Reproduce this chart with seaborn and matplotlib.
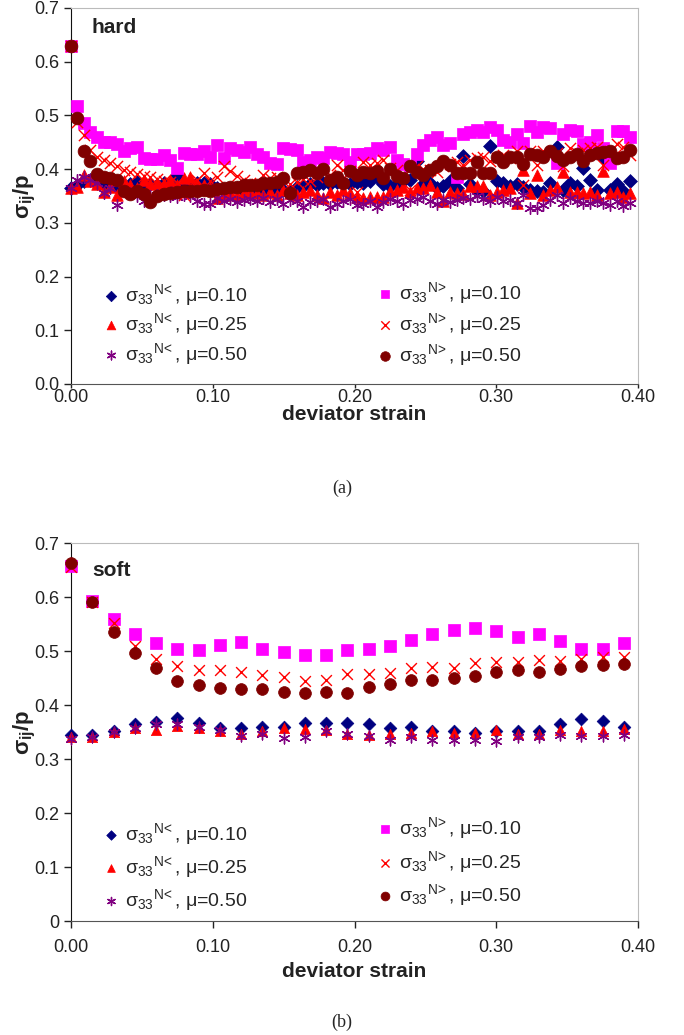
import matplotlib
matplotlib.use('Agg')
import matplotlib.pyplot as plt
import seaborn as sns

# ---- data ----
# hard particles: strain grid and sigma_33 / p for each series
strain_hard = [0.0000, 0.0042, 0.0089, 0.0136, 0.0183, 0.0230, 0.0277, 0.0324, 0.0371, 0.0418,
               0.0465, 0.0512, 0.0559, 0.0606, 0.0653, 0.0700, 0.0747, 0.0794, 0.0841, 0.0888,
               0.0935, 0.0982, 0.1029, 0.1076, 0.1123, 0.1170, 0.1217, 0.1264, 0.1311, 0.1358,
               0.1405, 0.1452, 0.1499, 0.1546, 0.1593, 0.1640, 0.1687, 0.1734, 0.1781, 0.1828,
               0.1875, 0.1922, 0.1969, 0.2016, 0.2063, 0.2110, 0.2157, 0.2204, 0.2251, 0.2298,
               0.2345, 0.2392, 0.2439, 0.2486, 0.2533, 0.2580, 0.2627, 0.2674, 0.2721, 0.2768,
               0.2815, 0.2862, 0.2909, 0.2956, 0.3003, 0.3050, 0.3097, 0.3144, 0.3191, 0.3238,
               0.3285, 0.3332, 0.3379, 0.3426, 0.3473, 0.3520, 0.3567, 0.3614, 0.3661, 0.3708,
               0.3755, 0.3802, 0.3849, 0.3896, 0.3943]

hard_lt_010 = [0.365, 0.370, 0.378, 0.380, 0.375, 0.372, 0.370, 0.368, 0.366, 0.372,
               0.376, 0.375, 0.372, 0.370, 0.375, 0.372, 0.389, 0.370, 0.373, 0.374,
               0.374, 0.372, 0.365, 0.360, 0.362, 0.365, 0.360, 0.362, 0.358, 0.362,
               0.360, 0.365, 0.362, 0.360, 0.366, 0.368, 0.372, 0.370, 0.374, 0.372,
               0.376, 0.375, 0.373, 0.376, 0.374, 0.377, 0.386, 0.372, 0.369, 0.373,
               0.378, 0.380, 0.415, 0.372, 0.374, 0.365, 0.369, 0.378, 0.365, 0.425,
               0.372, 0.362, 0.360, 0.444, 0.378, 0.375, 0.369, 0.373, 0.367, 0.362,
               0.360, 0.357, 0.375, 0.442, 0.361, 0.375, 0.369, 0.403, 0.379, 0.361,
               0.420, 0.361, 0.372, 0.359, 0.378]
hard_lt_025 = [0.365, 0.367, 0.389, 0.377, 0.372, 0.358, 0.367, 0.352, 0.378, 0.370,
               0.364, 0.380, 0.372, 0.375, 0.372, 0.380, 0.370, 0.383, 0.385, 0.372,
               0.370, 0.364, 0.346, 0.352, 0.358, 0.352, 0.355, 0.358, 0.355, 0.352,
               0.358, 0.352, 0.362, 0.355, 0.352, 0.358, 0.361, 0.352, 0.346, 0.358,
               0.352, 0.361, 0.355, 0.349, 0.346, 0.349, 0.348, 0.349, 0.360, 0.361,
               0.367, 0.358, 0.364, 0.365, 0.370, 0.358, 0.340, 0.358, 0.355, 0.354,
               0.369, 0.369, 0.369, 0.352, 0.358, 0.361, 0.364, 0.337, 0.398, 0.355,
               0.389, 0.352, 0.361, 0.367, 0.395, 0.358, 0.357, 0.355, 0.358, 0.352,
               0.397, 0.355, 0.358, 0.349, 0.355]
hard_lt_050 = [0.365, 0.380, 0.385, 0.380, 0.375, 0.355, 0.365, 0.333, 0.360, 0.355,
               0.350, 0.340, 0.350, 0.352, 0.352, 0.350, 0.348, 0.352, 0.350, 0.340,
               0.336, 0.335, 0.346, 0.340, 0.345, 0.338, 0.342, 0.345, 0.340, 0.346,
               0.338, 0.345, 0.335, 0.343, 0.340, 0.330, 0.338, 0.340, 0.345, 0.330,
               0.336, 0.340, 0.345, 0.333, 0.335, 0.340, 0.330, 0.338, 0.345, 0.340,
               0.336, 0.343, 0.345, 0.348, 0.340, 0.335, 0.343, 0.338, 0.342, 0.347,
               0.345, 0.350, 0.345, 0.340, 0.349, 0.340, 0.343, 0.337, 0.352, 0.328,
               0.328, 0.334, 0.343, 0.352, 0.337, 0.346, 0.340, 0.337, 0.337, 0.340,
               0.337, 0.334, 0.340, 0.331, 0.337]
hard_gt_010 = [0.630, 0.518, 0.485, 0.470, 0.459, 0.450, 0.451, 0.446, 0.434, 0.440,
               0.442, 0.420, 0.418, 0.418, 0.426, 0.417, 0.403, 0.430, 0.429, 0.429,
               0.433, 0.423, 0.445, 0.420, 0.440, 0.436, 0.431, 0.442, 0.428, 0.423,
               0.411, 0.410, 0.439, 0.437, 0.436, 0.414, 0.417, 0.423, 0.421, 0.431,
               0.430, 0.429, 0.414, 0.429, 0.428, 0.430, 0.439, 0.436, 0.442, 0.417,
               0.410, 0.405, 0.428, 0.445, 0.454, 0.460, 0.445, 0.448, 0.386, 0.465,
               0.469, 0.473, 0.470, 0.479, 0.473, 0.454, 0.451, 0.465, 0.448, 0.480,
               0.469, 0.479, 0.476, 0.411, 0.465, 0.473, 0.471, 0.446, 0.451, 0.464,
               0.439, 0.411, 0.471, 0.471, 0.459]
hard_gt_025 = [0.630, 0.488, 0.464, 0.436, 0.423, 0.417, 0.411, 0.405, 0.398, 0.394,
               0.391, 0.387, 0.385, 0.382, 0.378, 0.376, 0.375, 0.352, 0.370, 0.380,
               0.392, 0.378, 0.386, 0.405, 0.396, 0.388, 0.380, 0.375, 0.372, 0.389,
               0.383, 0.385, 0.378, 0.372, 0.376, 0.382, 0.378, 0.385, 0.395, 0.390,
               0.408, 0.398, 0.396, 0.358, 0.414, 0.408, 0.411, 0.417, 0.402, 0.398,
               0.388, 0.361, 0.405, 0.400, 0.398, 0.395, 0.405, 0.410, 0.414, 0.408,
               0.417, 0.420, 0.423, 0.415, 0.420, 0.426, 0.420, 0.433, 0.371, 0.433,
               0.408, 0.434, 0.426, 0.430, 0.405, 0.439, 0.430, 0.436, 0.439, 0.442,
               0.408, 0.433, 0.446, 0.442, 0.426]
hard_gt_050 = [0.630, 0.496, 0.433, 0.416, 0.391, 0.386, 0.383, 0.380, 0.359, 0.353,
               0.360, 0.353, 0.338, 0.350, 0.353, 0.355, 0.358, 0.359, 0.359, 0.360,
               0.362, 0.360, 0.363, 0.365, 0.366, 0.367, 0.370, 0.370, 0.371, 0.375,
               0.375, 0.376, 0.383, 0.355, 0.392, 0.395, 0.398, 0.392, 0.400, 0.380,
               0.386, 0.374, 0.397, 0.390, 0.395, 0.392, 0.396, 0.384, 0.400, 0.388,
               0.384, 0.405, 0.395, 0.390, 0.398, 0.405, 0.415, 0.408, 0.393, 0.392,
               0.393, 0.414, 0.392, 0.392, 0.423, 0.414, 0.423, 0.422, 0.409, 0.428,
               0.426, 0.422, 0.433, 0.425, 0.417, 0.423, 0.428, 0.415, 0.426, 0.430,
               0.431, 0.433, 0.420, 0.423, 0.436]

# soft particles
strain_soft = [0.000, 0.015, 0.030, 0.045, 0.060, 0.075, 0.090, 0.105, 0.120, 0.135,
               0.150, 0.165, 0.180, 0.195, 0.210, 0.225, 0.240, 0.255, 0.270, 0.285,
               0.300, 0.315, 0.330, 0.345, 0.360, 0.375, 0.390]
soft_lt_010 = [0.345, 0.345, 0.352, 0.364, 0.368, 0.376, 0.366, 0.357, 0.358, 0.359,
               0.360, 0.366, 0.366, 0.366, 0.364, 0.358, 0.360, 0.351, 0.351, 0.349,
               0.352, 0.352, 0.352, 0.364, 0.374, 0.370, 0.360]
soft_lt_025 = [0.341, 0.341, 0.350, 0.357, 0.353, 0.362, 0.358, 0.351, 0.347, 0.352,
               0.358, 0.355, 0.353, 0.347, 0.345, 0.346, 0.349, 0.351, 0.349, 0.348,
               0.354, 0.346, 0.346, 0.353, 0.352, 0.352, 0.355]
soft_lt_050 = [0.337, 0.340, 0.350, 0.358, 0.364, 0.364, 0.360, 0.353, 0.343, 0.346,
               0.339, 0.341, 0.352, 0.346, 0.343, 0.335, 0.341, 0.335, 0.335, 0.335,
               0.334, 0.340, 0.341, 0.345, 0.343, 0.343, 0.345]
soft_gt_010 = [0.658, 0.593, 0.560, 0.532, 0.514, 0.503, 0.502, 0.512, 0.517, 0.504,
               0.499, 0.493, 0.493, 0.501, 0.504, 0.509, 0.520, 0.532, 0.539, 0.542,
               0.537, 0.526, 0.532, 0.518, 0.504, 0.504, 0.514]
soft_gt_025 = [0.655, 0.590, 0.551, 0.510, 0.486, 0.473, 0.465, 0.465, 0.461, 0.455,
               0.452, 0.444, 0.447, 0.457, 0.457, 0.460, 0.469, 0.471, 0.469, 0.478,
               0.479, 0.480, 0.483, 0.482, 0.486, 0.489, 0.489]
soft_gt_050 = [0.663, 0.591, 0.535, 0.497, 0.468, 0.445, 0.437, 0.432, 0.429, 0.429,
               0.424, 0.423, 0.425, 0.422, 0.433, 0.438, 0.446, 0.447, 0.450, 0.454,
               0.461, 0.464, 0.461, 0.466, 0.473, 0.475, 0.476]

labels = [r'$\sigma_{33}{}^{N\!<}$, μ=0.10', r'$\sigma_{33}{}^{N\!<}$, μ=0.25',
          r'$\sigma_{33}{}^{N\!<}$, μ=0.50', r'$\sigma_{33}{}^{N\!>}$, μ=0.10',
          r'$\sigma_{33}{}^{N\!>}$, μ=0.25', r'$\sigma_{33}{}^{N\!>}$, μ=0.50']
colors = ['#000080', '#FF0000', '#800080', '#FF00FF', '#FF0000', '#800000']
markers = ['D', '^', (6, 2, 0), 's', 'x', 'o']
x_ticks = [0.0, 0.1, 0.2, 0.3, 0.4]
x_ticklabels = ['0.00', '0.10', '0.20', '0.30', '0.40']
y_ticks = [0.0, 0.1, 0.2, 0.3, 0.4, 0.5, 0.6, 0.7]

sns.set_style('white')
plt.rcParams['font.family'] = ['Liberation Sans', 'DejaVu Sans']
plt.rcParams['mathtext.default'] = 'regular'

fig = plt.figure(figsize=(6.84, 10.35), dpi=100)
ax_top = fig.add_axes([71 / 684, 1 - 384 / 1035, 567 / 684, 376 / 1035])
ax_bot = fig.add_axes([71 / 684, 1 - 921 / 1035, 567 / 684, 378 / 1035])


def draw_panel(ax, x, series, sizes, widths, title, y_labels, tick_len, tick_pad, xlabel_y,
               leg_rows, leg_space):
    handles = []
    for ys, c, m, s, lw, lab in zip(series, colors, markers, sizes, widths, labels):
        sns.scatterplot(x=x, y=ys, ax=ax, color=c, marker=m, s=s, linewidth=lw,
                        edgecolor=c, clip_on=False, zorder=3)
        handles.append(ax.collections[-1])
        handles[-1].set_label(lab)

    ax.set_xlim(0, 0.4)
    ax.set_ylim(0, 0.7)
    ax.set_xticks(x_ticks)
    ax.set_xticklabels(x_ticklabels)
    ax.set_yticks(y_ticks)
    ax.set_yticklabels(y_labels)
    ax.tick_params(axis='both', labelsize=13, colors='#222222', length=5, width=1,
                   direction='out', left=True, bottom=True)
    ax.tick_params(axis='x', pad=tick_pad, length=tick_len)
    for side in ['top', 'right']:
        ax.spines[side].set_color('#BBBBBB')
    ax.spines['left'].set_color('#111111')
    ax.spines['bottom'].set_color('#555555')

    ax.set_xlabel('deviator strain', fontsize=15, fontweight='bold', color='#222222')
    ax.xaxis.set_label_coords(0.5, xlabel_y)
    ax.set_ylabel(r'$\sigma_{ij}$/p', fontsize=16, fontweight='bold', color='#222222')
    ax.yaxis.set_label_coords(-0.058, 0.5)
    ax.text(0.037, title[1], title[0], transform=ax.transAxes, fontsize=15,
            fontweight='bold', color='#222222', va='center', ha='left')

    leg_kw = dict(frameon=False, fontsize=14, handlelength=1.0, handletextpad=0.25,
                  borderpad=0, borderaxespad=0, markerscale=0.75, loc='upper left')
    leg1 = ax.legend(handles=handles[:3], bbox_to_anchor=(0.053, leg_rows[0]),
                     labelspacing=leg_space[0], **leg_kw)
    ax.add_artist(leg1)
    ax.legend(handles=handles[3:], bbox_to_anchor=(0.536, leg_rows[1]),
              labelspacing=leg_space[1], **leg_kw)


draw_panel(ax_top, strain_hard,
           [hard_lt_010, hard_lt_025, hard_lt_050, hard_gt_010, hard_gt_025, hard_gt_050],
           [50, 70, 70, 72, 65, 85], [0.5, 0.5, 1.0, 0.5, 1.0, 0.5],
           ('hard', 0.947), ['0.0', '0.1', '0.2', '0.3', '0.4', '0.5', '0.6', '0.7'],
           3, 0.5, -0.056, (0.272, 0.276), (0.2, 0.26))
draw_panel(ax_bot, strain_soft,
           [soft_lt_010, soft_lt_025, soft_lt_050, soft_gt_010, soft_gt_025, soft_gt_050],
           [42, 55, 60, 65, 60, 72], [0.5, 0.5, 1.0, 0.5, 1.0, 0.5],
           ('soft', 0.926), ['0', '0.1', '0.2', '0.3', '0.4', '0.5', '0.6', '0.7'],
           5, 8, -0.108, (0.265, 0.28), (0.37, 0.4))

fig.text(342 / 684, 1 - 488 / 1035, '(a)', family='Liberation Serif', fontsize=13,
         ha='center', va='center')
fig.text(342 / 684, 1 - 1022 / 1035, '(b)', family='Liberation Serif', fontsize=13,
         ha='center', va='center')

fig.savefig('out.png', dpi=100)
